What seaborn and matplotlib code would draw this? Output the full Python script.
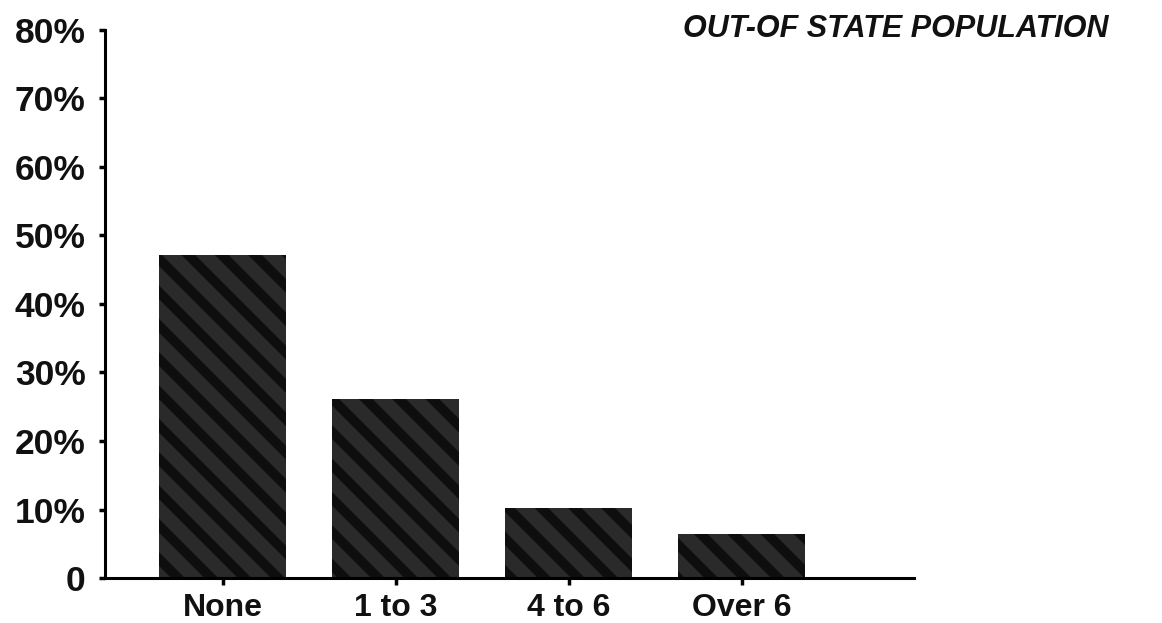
import matplotlib
matplotlib.use("Agg")
import matplotlib.pyplot as plt
import seaborn as sns
import pandas as pd

# values (percent of out-of-state population)
categories = ["None", "1 to 3", "4 to 6", "Over 6"]
percent = [47.2, 26.1, 10.2, 6.4]
y_ticks = [0, 10, 20, 30, 40, 50, 60, 70, 80]
y_tick_labels = ["0", "10%", "20%", "30%", "40%", "50%", "60%", "70%", "80%"]
title = "OUT-OF STATE POPULATION"

sns.set_theme(style="white")
plt.rcParams["font.family"] = ["Liberation Sans", "DejaVu Sans"]
plt.rcParams["hatch.linewidth"] = 7

df = pd.DataFrame({"category": categories, "percent": percent})

fig = plt.figure(figsize=(11.62, 6.23), dpi=100)
ax = fig.add_axes([0.0904, 0.0722, 0.6966, 0.8798])

sns.barplot(data=df, x="category", y="percent", order=categories,
            color="#2a2a2a", width=0.735, saturation=1, ax=ax)
for bar in ax.patches:
    bar.set_hatch("\\")
    bar.set_edgecolor("#0e0e0e")
    bar.set_linewidth(0)

ax.set_xlim(-0.68, 4.0)
ax.set_ylim(0, 80)
ax.set_yticks(y_ticks)
ax.set_yticklabels(y_tick_labels, fontsize=25.5, fontweight="semibold")
ax.set_xticks(range(len(categories)))
ax.set_xticklabels(categories, fontsize=23, fontweight="bold")
ax.set_xlabel("")
ax.set_ylabel("")

for side in ["top", "right"]:
    ax.spines[side].set_visible(False)
for side in ["left", "bottom"]:
    ax.spines[side].set_linewidth(2.2)
    ax.spines[side].set_color("black")

ax.tick_params(axis="y", left=True, length=4, width=2.5, pad=10,
               color="black", labelcolor="#111111")
ax.tick_params(axis="x", bottom=True, length=5, width=2.5, pad=6,
               color="black", labelcolor="#111111")

fig.text(0.954, 0.977, title, ha="right", va="top", fontsize=22,
         fontweight="bold", fontstyle="italic", color="#111111")

fig.savefig("out.png", dpi=100, facecolor="white")
